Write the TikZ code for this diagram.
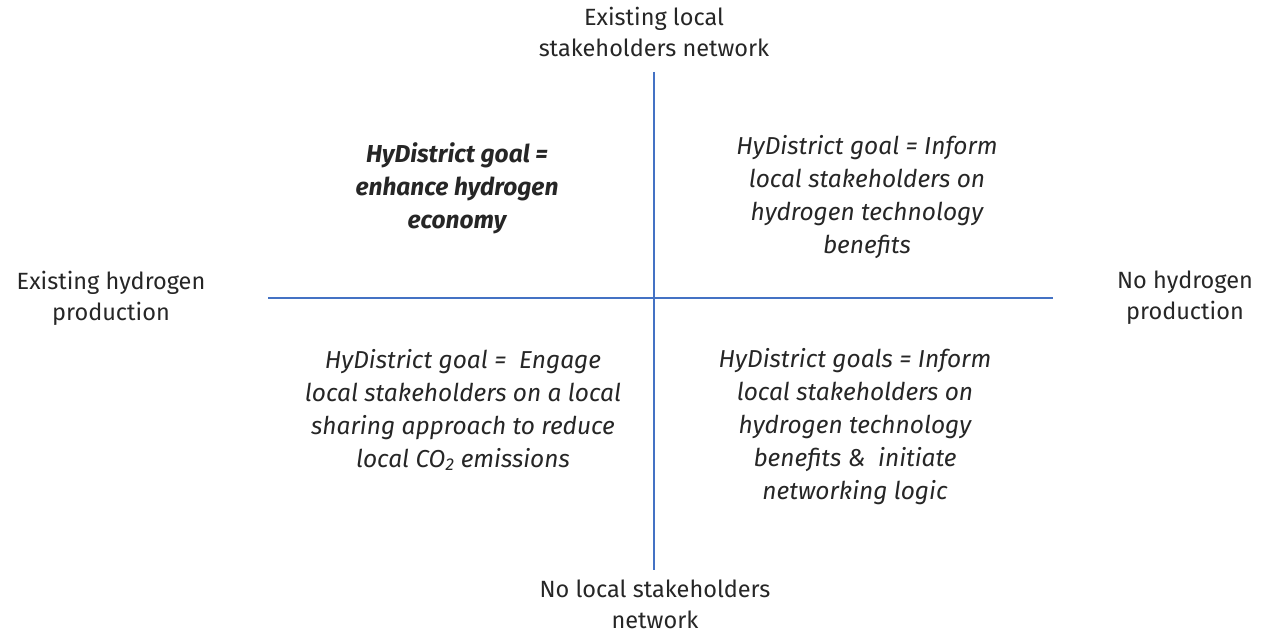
\documentclass[tikz,border=0pt]{standalone}
\usepackage{fontspec}
\setmainfont{Fira Sans}
\begin{document}
\begin{tikzpicture}[x=1pt,y=-1pt,
  axislabel/.style={align=center,font=\fontsize{23.5}{31}\selectfont,inner sep=0pt,text=black!85},
  quad/.style={align=center,font=\fontsize{24.5}{33}\selectfont\itshape,inner sep=0pt,text=black!85},
  axis/.style={draw={rgb,255:red,68;green,114;blue,196},line width=1.5pt}]
\useasboundingbox[fill=white] (0,0) rectangle (1264,634);
\coordinate (vt) at (654,72);
\coordinate (vb) at (654,570);
\coordinate (hl) at (268,298);
\coordinate (hr) at (1053,298);
\draw[axis] (vt) -- (vb);
\draw[axis] (hl) -- (hr);
\node[axislabel] (top) at (654,32) {Existing local\\stakeholders network};
\node[axislabel] (bottom) at (655,604) {No local stakeholders\\network};
\node[axislabel] (left) at (111,298) {Existing hydrogen\\production};
\node[axislabel] (right) at (1185,298) {No hydrogen\\production};
\node[quad,font=\fontsize{24.5}{33}\selectfont\itshape\bfseries] (tl) at (457,188) {HyDistrict goal =\\enhance hydrogen\\economy};
\node[quad] (tr) at (867,197) {HyDistrict goal = Inform\\local stakeholders on\\hydrogen technology\\benefits};
\node[quad] (bl) at (463,410) {HyDistrict goal =~ Engage\\local stakeholders on a local\\sharing approach to reduce\\local CO\textsubscript{2} emissions};
\node[quad] (br) at (855,427) {HyDistrict goals = Inform\\local stakeholders on\\hydrogen technology\\benefits \&~ initiate\\networking logic};
\end{tikzpicture}
\end{document}
